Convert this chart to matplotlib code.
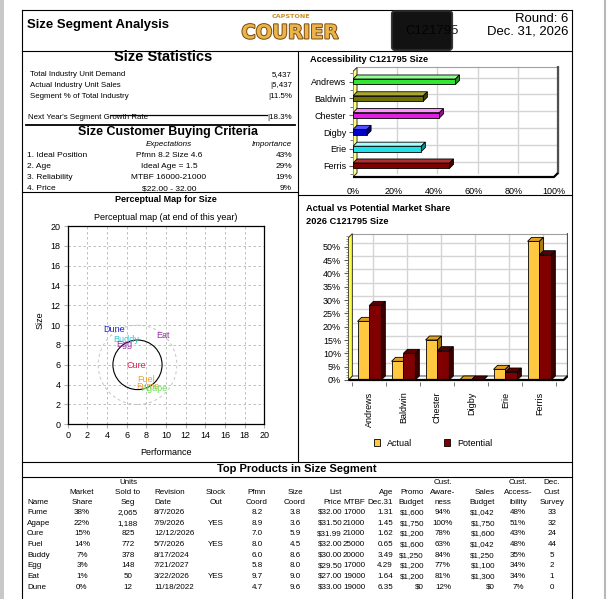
import matplotlib
matplotlib.use('Agg')
import matplotlib.pyplot as plt
from matplotlib.patches import Polygon, Rectangle, Circle, FancyBboxPatch, Patch
from matplotlib.lines import Line2D
import matplotlib.patheffects as pe
from matplotlib import font_manager

# ---------------- data ----------------
stats_labels = ['Total Industry Unit Demand', 'Actual Industry Unit Sales', 'Segment % of Total Industry']
stats_values = ['5,437', '|5,437', '|11.5%']
growth_label = "Next Year's Segment Growth Rate"
growth_value = '|18.3%'
criteria = ['1. Ideal Position', '2. Age', '3. Reliability', '4. Price']
expectations = ['Pfmn 8.2 Size 4.6', 'Ideal Age = 1.5', 'MTBF 16000-21000', '$22.00 - 32.00']
importance = ['43%', '29%', '19%', '9%']

companies = ['Andrews', 'Baldwin', 'Chester', 'Digby', 'Erie', 'Ferris']
accessibility = [51, 35, 43, 7, 34, 48]
actual_share = [22, 7, 15, 0, 4, 52]
potential_share = [28, 10, 11, 0, 3, 47]

products = ['Fume', 'Agape', 'Cure', 'Fuel', 'Buddy', 'Egg', 'Eat', 'Dune']
market_share = ['38%', '22%', '15%', '14%', '7%', '3%', '1%', '0%']
units_sold = ['2,065', '1,188', '825', '772', '378', '148', '50', '12']
revision = ['8/7/2026', '7/9/2026', '12/12/2026', '5/7/2026', '8/17/2024', '7/21/2027', '3/22/2026', '11/18/2022']
stock_out = ['', 'YES', '', 'YES', '', '', 'YES', '']
pfmn = [8.2, 8.9, 7.0, 8.0, 6.0, 5.8, 9.7, 4.7]
size = [3.8, 3.6, 5.9, 4.5, 8.6, 8.0, 9.0, 9.6]
price = ['$32.00', '$31.50', '$31.99', '$32.00', '$30.00', '$29.50', '$27.00', '$33.00']
mtbf = ['17000', '21000', '21000', '25000', '20000', '17000', '19000', '19000']
age = ['1.31', '1.45', '1.62', '0.65', '3.49', '4.29', '1.64', '6.35']
promo = ['$1,600', '$1,750', '$1,200', '$1,600', '$1,250', '$1,200', '$1,200', '$0']
awareness = ['94%', '100%', '78%', '63%', '84%', '77%', '81%', '12%']
sales_budget = ['$1,042', '$1,750', '$1,600', '$1,042', '$1,250', '$1,100', '$1,300', '$0']
cust_access = ['48%', '51%', '43%', '48%', '35%', '34%', '34%', '7%']
survey = ['33', '32', '24', '44', '5', '2', '1', '0']

seg_center = (7.1, 6.0)
fine_cut = 2.5
rough_cut = 4.0

# ---------------- setup ----------------
W, H = 611, 599
fig = plt.figure(figsize=(6.11, 5.99), dpi=100)
fig.patch.set_facecolor('white')

names = {f.name for f in font_manager.fontManager.ttflist}
SANS = 'Liberation Sans' if 'Liberation Sans' in names else 'DejaVu Sans'
HAS_NARROW = 'Liberation Sans Narrow' in names
NARROW = 'Liberation Sans Narrow' if HAS_NARROW else SANS
NS = 1.0 if HAS_NARROW else 0.82
plt.rcParams['font.family'] = [SANS, 'DejaVu Sans']


def fx(x):
    return x / W


def fy(y):
    return 1 - y / H


def T(x, y, s, size=6, ha='left', va='center', **kw):
    return fig.text(fx(x), fy(y), s, fontsize=size, ha=ha, va=va, **kw)


def L(x1, y1, x2, y2, lw=0.8, color='black', **kw):
    fig.add_artist(Line2D([fx(x1), fx(x2)], [fy(y1), fy(y2)], transform=fig.transFigure,
                          lw=lw, color=color, **kw))


def AX(x0, y0, x1, y1):
    return fig.add_axes([fx(x0), fy(y1), (x1 - x0) / W, (y1 - y0) / H])


# page decorations
fig.add_artist(Rectangle((0, 0), fx(4), 1, transform=fig.transFigure, color='#c8c8c8', lw=0))
L(605, 0, 605, 599, lw=1.5, color='#b8b8b8')

# frame lines
L(22, 10, 572, 10)
L(22, 10, 22, 599)
L(572, 10, 572, 599)
L(22, 51, 572, 51)
L(298, 51, 298, 462)
L(22, 192, 298, 192)
L(298, 195, 572, 195)
L(22, 462, 572, 462)
L(22, 477, 572, 477)

# ---------------- header ----------------
T(27, 25, 'Size Segment Analysis', size=11.5 * NS, family=NARROW, fontweight='bold')
T(568, 19, 'Round: 6', size=11.5 * NS, ha='right', family=NARROW)
T(568, 32, 'Dec. 31, 2026', size=11.5 * NS, ha='right', family=NARROW)
T(291, 17, 'CAPSTONE', size=4.6, ha='center', family='DejaVu Sans', fontweight='bold', color='#c8902a')
T(290, 33, 'COURIER', size=14, ha='center', family='DejaVu Sans', fontweight='bold', color='#eab448',
  path_effects=[pe.withStroke(linewidth=1.4, foreground='#7a4a10')])
T(459, 31, 'C121795', size=11.5 * NS, ha='right', family=NARROW, color='#222222', zorder=2)
blob = FancyBboxPatch((fx(395), fy(47)), fx(449) - fx(395), fy(14) - fy(47),
                      boxstyle='round,pad=0.005', transform=fig.transFigure,
                      facecolor='black', edgecolor='#2a2a2a', lw=1.5, alpha=0.93, zorder=10)
fig.add_artist(blob)

# ---------------- size statistics ----------------
T(163, 57, 'Size Statistics', size=10.5, ha='center', fontweight='bold')
for i, (lab, val) in enumerate(zip(stats_labels, stats_values)):
    y = 75 + i * 10.5
    T(30, y, lab, size=5.7)
    T(292, y, val, size=5.7, ha='right')
T(28, 117.7, growth_label, size=5.7)
T(292, 117.7, growth_value, size=5.7, ha='right')
L(110, 115.3, 267, 115.3, lw=0.9)
L(26, 125.3, 295, 125.3, lw=1.3)

T(168, 132, 'Size Customer Buying Criteria', size=9, ha='center', fontweight='bold')
T(169, 144.3, 'Expectations', size=5.8, ha='center', style='italic')
T(292, 144.3, 'Importance', size=5.8, ha='right', style='italic')
for i in range(len(criteria)):
    y = 155.5 + i * 11
    T(27, y, criteria[i], size=6.0)
    T(169, y, expectations[i], size=6.0, ha='center')
    T(292, y, importance[i], size=6.0, ha='right')

# ---------------- perceptual map ----------------
T(166, 200, 'Perceptual Map for Size', size=6.5, ha='center', fontweight='bold')
T(166, 217.7, 'Perceptual map (at end of this year)', size=6.5, ha='center')
axp = AX(67.7, 226, 264.3, 424.3)
axp.set_xlim(0, 20)
axp.set_ylim(0, 20)
axp.set_xticks(range(0, 21, 2))
axp.set_yticks(range(0, 21, 2))
axp.grid(True, ls=(0, (3, 3)), color='#b4b4b4', lw=0.6)
axp.set_axisbelow(True)
axp.tick_params(labelsize=6.5, length=3, color='#b4b4b4', pad=2)
for sp in axp.spines.values():
    sp.set_linewidth(0.9)
axp.add_patch(Circle(seg_center, rough_cut, fill=False, ls=(0, (3, 3)), color='#c4c4c4', lw=0.7))
axp.add_patch(Circle(seg_center, fine_cut, fill=False, color='black', lw=0.8))
label_colors = {'Fume': '#e8a040', 'Agape': '#66dd55', 'Cure': '#d82050', 'Fuel': '#f0a030',
                'Buddy': '#30c8d8', 'Egg': '#9030a0', 'Eat': '#9030a0', 'Dune': '#2020c0'}
for n, p, s in zip(products, pfmn, size):
    axp.text(p, s, n, color=label_colors[n], fontsize=6.5, ha='center', va='center')
T(40, 320, 'Size', size=6.5, ha='center', rotation=90)
T(166, 452.7, 'Performance', size=6.5, ha='center')

# ---------------- accessibility (3D horizontal bars) ----------------
T(310, 59, 'Accessibility C121795 Size', size=6.7, fontweight='bold')
axa = AX(353, 66, 560, 177)
ybot, ytop = 5.673, -0.85
axa.set_xlim(0, 103)
axa.set_ylim(ybot, -0.934)
for sp in axa.spines.values():
    sp.set_visible(False)
dxa, dya = 2.0, -0.24
bh = 0.32
for k in range(1, 6):
    axa.plot([20 * k + dxa] * 2, [ybot + dya, ytop], color='#d4d4d4', lw=1.0, zorder=1)
for i in range(len(companies)):
    axa.plot([dxa, 100 + dxa], [i + dya] * 2, color='#d4d4d4', lw=1.0, zorder=1)
axa.plot([dxa, 100 + dxa], [ytop, ytop], color='#a0a0a0', lw=0.8, zorder=1)
axa.plot([100 + dxa, 100 + dxa], [ybot + dya, ytop], color='#505050', lw=1.6, zorder=1)
axa.plot([0, 100, 100 + dxa], [ybot, ybot, ybot + dya], color='black', lw=1.6, zorder=5,
         clip_on=False, solid_capstyle='butt')
axa.add_patch(Polygon([(0, ybot), (dxa, ybot + dya), (dxa, ytop), (0, ytop - dya)],
                      closed=True, facecolor='#ffff80', edgecolor='#303030', lw=0.7, zorder=2))
acc_cols = [('#33e633', '#90ff90', '#1a9a1a'), ('#707000', '#a8a830', '#404000'),
            ('#e020e0', '#ff90ff', '#901090'), ('#0000c8', '#5050ff', '#000080'),
            ('#20e0e8', '#a0ffff', '#109090'), ('#800000', '#b03030', '#400000')]
axa.barh(range(len(companies)), accessibility, height=bh,
         color=[c[0] for c in acc_cols], edgecolor='black', lw=0.6, zorder=3)
for i, v in enumerate(accessibility):
    f, t, s = acc_cols[i]
    y0 = i - bh / 2
    y1 = i + bh / 2
    axa.add_patch(Polygon([(0, y0), (v, y0), (v + dxa, y0 + dya), (dxa, y0 + dya)],
                          facecolor=t, edgecolor='black', lw=0.6, zorder=3))
    axa.add_patch(Polygon([(v, y0), (v, y1), (v + dxa, y1 + dya), (v + dxa, y0 + dya)],
                          facecolor=s, edgecolor='black', lw=0.6, zorder=3))
axa.set_yticks(range(len(companies)))
axa.set_yticklabels(companies)
axa.set_yticks([i + 0.5 for i in range(-1, 6)], minor=True)
axa.tick_params(axis='y', which='major', labelsize=6.5, length=3, pad=2, color='#606060')
axa.tick_params(axis='y', which='minor', length=2, color='#606060')
axa.set_xticks(range(0, 101, 20))
axa.set_xticklabels([f'{v}%' for v in range(0, 101, 20)])
axa.tick_params(axis='x', labelsize=6.5, length=0, pad=7)

# ---------------- market share (3D vertical bars) ----------------
T(306, 209, 'Actual vs Potential Market Share', size=6.7, fontweight='bold')
T(306, 221, '2026 C121795 Size', size=6.7, fontweight='bold')
axm = AX(348, 233, 568, 381.7)
axm.set_xlim(-0.63, 5.84)
axm.set_ylim(-0.64, 55.14)
for sp in axm.spines.values():
    sp.set_visible(False)
dxm, dym = 0.118, 1.5
bw = 0.35
xL, xR, ymt = -0.62, 5.83, 54.9
for k in range(0, 11):
    axm.plot([xL + dxm, xR], [5 * k + dym] * 2, color='#d4d4d4', lw=1.0, zorder=1)
for i in range(len(companies)):
    axm.plot([i + dxm] * 2, [dym, ymt], color='#d4d4d4', lw=1.0, zorder=1)
axm.plot([xL + dxm, xR], [ymt, ymt], color='#a0a0a0', lw=0.8, zorder=1)
axm.plot([xR, xR], [dym, ymt], color='#505050', lw=1.6, zorder=1)
axm.add_patch(Polygon([(xL, 0), (xR - dxm, 0), (xR, dym), (xL + dxm, dym)], closed=True,
                      facecolor='white', edgecolor='#303030', lw=0.6, zorder=2))
axm.plot([xL, xR - dxm, xR], [0, 0, dym], color='black', lw=1.6, zorder=6, solid_capstyle='butt')
axm.add_patch(Polygon([(xL, 0), (xL + dxm, dym), (xL + dxm, ymt), (xL, ymt - dym)], closed=True,
                      facecolor='#ffff40', edgecolor='#303030', lw=0.7, zorder=2))

series = [(actual_share, -bw / 2, ('#ffc840', '#e0a020', '#a87a10'), 3),
          (potential_share, bw / 2, ('#800000', '#5a0000', '#3a0000'), 4)]
for vals, off, (f, t, s), z in series:
    xs = [i + off for i in range(len(vals))]
    axm.bar(xs, vals, width=bw, color=f, edgecolor='black', lw=0.6, zorder=z)
    for x, v in zip(xs, vals):
        a, b = x - bw / 2, x + bw / 2
        axm.add_patch(Polygon([(a, v), (b, v), (b + dxm, v + dym), (a + dxm, v + dym)],
                              facecolor=t, edgecolor='black', lw=0.6, zorder=z))
        axm.add_patch(Polygon([(b, 0), (b, v), (b + dxm, v + dym), (b + dxm, dym)],
                              facecolor=s, edgecolor='black', lw=0.6, zorder=z))
axm.set_yticks(range(0, 51, 5))
axm.set_yticklabels([f'{v}%' for v in range(0, 51, 5)])
axm.set_yticks(range(0, 55), minor=True)
axm.tick_params(axis='y', which='major', labelsize=6.5, length=3, pad=2, color='#606060')
axm.tick_params(axis='y', which='minor', length=1.5, color='#808080')
axm.set_xticks(range(len(companies)))
axm.set_xticklabels(companies, rotation=90)
axm.set_xticks([i - 0.5 for i in range(len(companies) + 1)], minor=True)
axm.tick_params(axis='x', which='major', labelsize=6.5, length=0, pad=7)
axm.tick_params(axis='x', which='minor', length=3, color='#606060')
fig.legend(handles=[Patch(facecolor='#ffc840', edgecolor='black', lw=0.6, label='Actual'),
                    Patch(facecolor='#800000', edgecolor='black', lw=0.6, label='Potential')],
           loc='center', bbox_to_anchor=(fx(433), fy(443)), bbox_transform=fig.transFigure,
           ncol=2, frameon=False, fontsize=6.5, handlelength=0.7, handleheight=0.7,
           columnspacing=3.5, handletextpad=0.8)

# ---------------- table ----------------
T(297, 469.5, 'Top Products in Size Segment', size=8, ha='center', fontweight='bold')
col_x = [27, 82, 128, 154, 216, 257, 295, 342, 354, 393, 424, 443, 495, 518, 552]
col_ha = ['left', 'center', 'center', 'left', 'center', 'center', 'center', 'right', 'center',
          'right', 'right', 'center', 'right', 'center', 'center']
head1 = ['', '', 'Units', '', '', '', '', '', '', '', '', 'Cust.', '', 'Cust.', 'Dec.']
head2 = ['', 'Market', 'Sold to', 'Revision', 'Stock', 'Pfmn', 'Size', 'List', '', 'Age', 'Promo',
         'Aware-', 'Sales', 'Access-', 'Cust']
head3 = ['Name', 'Share', 'Seg', 'Date', 'Out', 'Coord', 'Coord', 'Price', 'MTBF', 'Dec.31', 'Budget',
         'ness', 'Budget', 'ibility', 'Survey']
FS = 5.8
for r, row in enumerate([head1, head2, head3]):
    for x, ha, s in zip(col_x, col_ha, row):
        if s:
            T(x, 482 + r * 10.3, s, size=FS, ha=ha)
columns = [products, market_share, units_sold, revision, stock_out,
           [f'{v:.1f}' for v in pfmn], [f'{v:.1f}' for v in size], price, mtbf, age, promo,
           awareness, sales_budget, cust_access, survey]
for j in range(len(products)):
    y = 512.5 + j * 10.65
    for x, ha, col in zip(col_x, col_ha, columns):
        if col[j]:
            T(x, y, col[j], size=FS, ha=ha)

fig.savefig('out.png', dpi=100, facecolor='white')
